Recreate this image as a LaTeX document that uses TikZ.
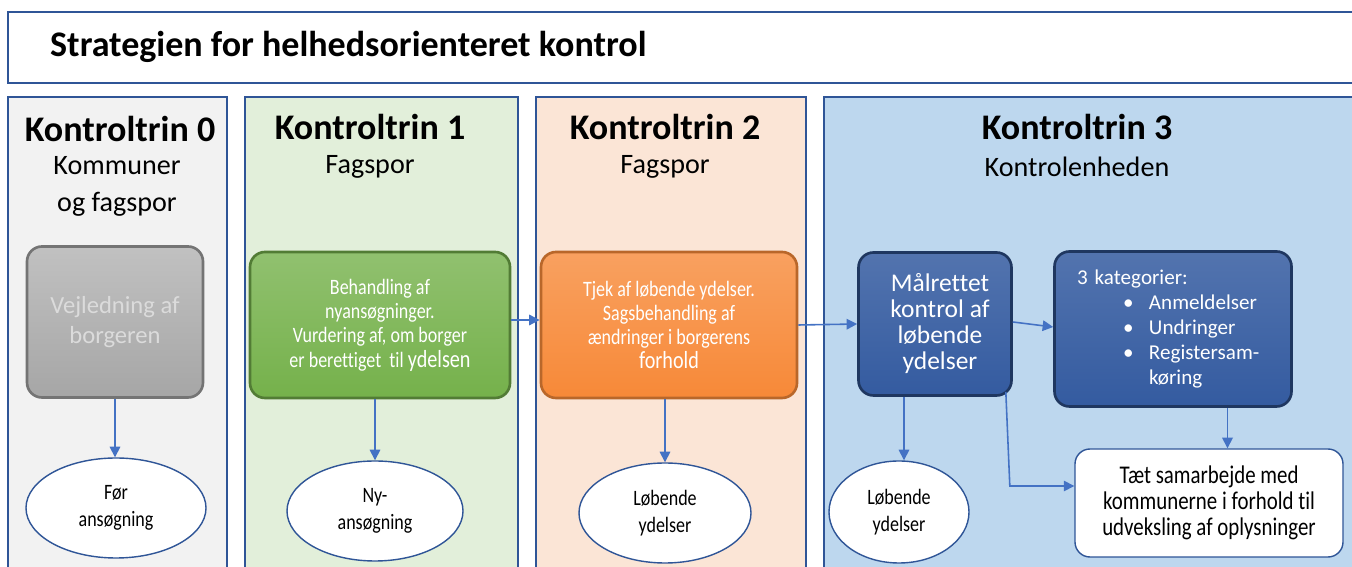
\documentclass[tikz,border=0pt]{standalone}
\usepackage{fontspec}
\setmainfont[Ligatures=NoCommon]{Carlito}
\newfontfamily\narrowfont[FakeStretch=0.82,Ligatures=NoCommon]{Carlito}
\usetikzlibrary{arrows.meta,shapes.geometric}
\definecolor{lineblue}{RGB}{47,85,151}
\definecolor{arrowblue}{RGB}{68,114,196}
\definecolor{colgray}{RGB}{242,242,242}
\definecolor{colgreen}{RGB}{226,239,218}
\definecolor{colorange}{RGB}{251,229,214}
\definecolor{colblue}{RGB}{189,215,238}
\definecolor{boxgray}{RGB}{166,166,166}
\definecolor{boxgreen}{RGB}{117,177,75}
\definecolor{boxorange}{RGB}{247,137,56}
\definecolor{boxblue}{RGB}{52,91,160}
\tikzset{
  trin/.style={font=\bfseries\fontsize{20.5}{24}\selectfont},
  sub/.style={font=\fontsize{16}{21}\selectfont, align=center},
  box/.style={rounded corners=3mm, draw, line width=1.5pt, align=center, inner sep=2pt},
  graybox/.style={box, draw=boxgray!70!black, top color=boxgray!70, bottom color=boxgray, text=white!86!black,
    font=\fontsize{14}{17.5}\selectfont},
  greenbox/.style={box, draw=boxgreen!70!black, top color=boxgreen!80!white, bottom color=boxgreen, text=white,
    font=\narrowfont\fontsize{12.5}{13.8}\selectfont},
  orangebox/.style={box, draw=boxorange!75!black, top color=boxorange!80!white, bottom color=boxorange, text=white,
    font=\narrowfont\fontsize{12.5}{13.8}\selectfont},
  bluebox/.style={box, draw=boxblue!60!black, top color=boxblue!85!white, bottom color=boxblue, text=white},
  udfald/.style={ellipse, draw=lineblue, fill=white, line width=0.8pt, inner sep=0pt, align=center,
    font=\narrowfont\fontsize{12.5}{15.5}\selectfont},
  pil/.style={draw=arrowblue, line width=0.9pt, -{Triangle[length=6pt,width=6pt]}}
}
\begin{document}
\begin{tikzpicture}[x=0.2mm, y=-0.2mm]
\useasboundingbox (0,0) rectangle (1352,567);
\fill[white] (0,0) rectangle (1352,567);
\draw[lineblue, line width=0.8pt] (8,12) rectangle (1362,83);
\node[anchor=west, font=\bfseries\fontsize{20.5}{24}\selectfont] (titel) at (44,47) {Strategien for helhedsorienteret kontrol};

\filldraw[fill=colgray, draw=lineblue, line width=0.6pt] (8,97) rectangle (227,575);
\filldraw[fill=colgreen, draw=lineblue, line width=0.6pt] (245,97) rectangle (518,575);
\filldraw[fill=colorange, draw=lineblue, line width=0.6pt] (536,97) rectangle (806,575);
\filldraw[fill=colblue, draw=lineblue, line width=0.6pt] (824,97) rectangle (1362,575);

\node[trin] (trin0) at (120,129) {Kontroltrin 0};
\node[sub] (sub0) at (117,186) {Kommuner\\og fagspor};
\node[trin] (trin1) at (370,127) {Kontroltrin 1};
\node[sub] (sub1) at (370,167) {Fagspor};
\node[trin] (trin2) at (665,127) {Kontroltrin 2};
\node[sub] (sub2) at (665,167) {Fagspor};
\node[trin] (trin3) at (1077,127) {Kontroltrin 3};
\node[sub] (sub3) at (1077,167) {Kontrolenheden};

\node[graybox, minimum width=35.2mm, minimum height=30.2mm] (vejl) at (115,322) {Vejledning af\\borgeren};
\node[greenbox, minimum width=52mm, minimum height=29.2mm] (behand) at (380,325)
  {Behandling af\\nyansøgninger.\\Vurdering af, om borger\\er berettiget\ \ til{\fontsize{14}{13.8}\selectfont\,ydelsen}};
\node[orangebox, minimum width=51.2mm, minimum height=29.2mm] (tjek) at (669,325)
  {Tjek af løbende ydelser.\\Sagsbehandling af\\ændringer i borgerens\\{\fontsize{14}{13.8}\selectfont forhold}};
\node[bluebox, minimum width=30.6mm, minimum height=28.6mm, font=\fontsize{14.5}{14.8}\selectfont] (maal) at (935,324)
  {\hspace*{2mm}Målrettet\\\hspace*{2mm}kontrol af\\\hspace*{2mm}løbende\\\hspace*{2mm}ydelser};
\node[bluebox, minimum width=47.4mm, minimum height=31mm, text width=38.4mm, align=left,
  font=\fontsize{12}{14.2}\selectfont] (kat) at (1173,329)
  {3 kategorier:\\
   \hspace*{9.2mm}\makebox[5.2mm][l]{\textbullet}Anmeldelser\\
   \hspace*{9.2mm}\makebox[5.2mm][l]{\textbullet}Undringer\\
   \hspace*{9.2mm}\makebox[5.2mm][l]{\textbullet}Registersam-\\
   \hspace*{14.4mm}køring};

\node[udfald, minimum width=36mm, minimum height=20mm] (foer) at (116,508) {Før\\ansøgning};
\node[udfald, minimum width=35.2mm, minimum height=20mm] (nyans) at (375,511) {Ny-\\ansøgning};
\node[udfald, minimum width=34.4mm, minimum height=20mm] (loeb2) at (665,513) {Løbende\\ydelser};
\node[udfald, minimum width=28mm, minimum height=20.4mm] (loeb3) at (899,512) {Løbende\\ydelser};
\node[draw=lineblue, fill=white, line width=0.8pt, rounded corners=3mm, minimum width=53.6mm, minimum height=21.6mm,
  align=center, font=\narrowfont\fontsize{14.5}{14.8}\selectfont] (samarb) at (1209,503)
  {Tæt\ samarbejde\ med\\kommunerne\ i\ forhold\ til\\udveksling\ af\ oplysninger};

\draw[pil] (vejl.south) -- (vejl.south |- foer.north);
\draw[pil] (nyans.north |- behand.south) -- (nyans.north);
\draw[pil] (loeb2.north |- tjek.south) -- (loeb2.north);
\draw[pil] ([xshift=-6.2mm]maal.south) -- ([xshift=-6.2mm]maal.south |- loeb3.north);
\draw[pil] ([yshift=1mm]behand.east) -- ([yshift=1mm]tjek.west);
\draw[pil] (tjek.east) -- (maal.west);
\draw[pil] ([yshift=0.4mm]maal.east) -- ([yshift=0.4mm]kat.west);
\draw[pil] ([xshift=-1.4mm,yshift=1mm]maal.south east) -- ([xshift=-0.6mm]maal.south east |- 0,486) -- ([yshift=3.4mm]samarb.west);
\draw[pil] ([xshift=10.9mm]kat.south) -- ([xshift=10.9mm]kat.south |- samarb.north);
\end{tikzpicture}
\end{document}
